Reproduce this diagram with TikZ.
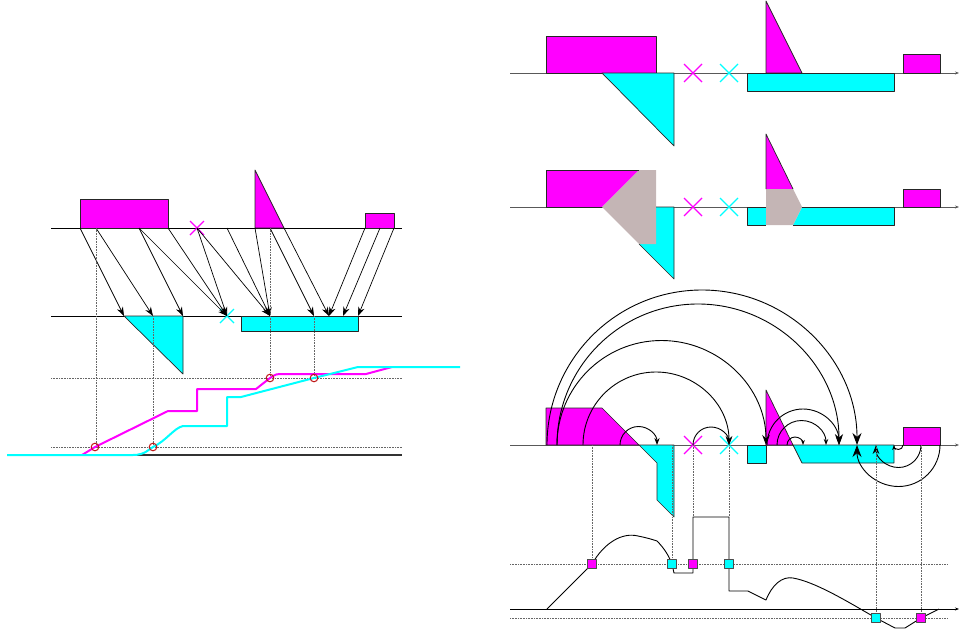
\documentclass[tikz,border=0pt]{standalone}
\usetikzlibrary{arrows.meta}
\definecolor{mag}{RGB}{255,0,255}
\definecolor{cyn}{RGB}{0,255,255}
\definecolor{overlap}{RGB}{196,181,181}
\definecolor{ringred}{RGB}{190,20,20}
\newcommand{\drawcross}[3]{\draw[#1,line width=1.3pt] (#2) +(-#3,-#3) -- +(#3,#3) +(-#3,#3) -- +(#3,-#3);}

\begin{document}
\begin{tikzpicture}[x=1pt,y=-1pt,line join=round,
  axisline/.style={draw=black!65,line width=0.8pt},
  piece/.style={draw=black!85,line width=0.7pt},
  guide/.style={densely dotted,draw=black!60,line width=0.6pt},
  ring/.style={draw=ringred,line width=1pt},
  sqmag/.style={draw=black!70,fill=mag,minimum size=9pt,inner sep=0pt,line width=0.6pt},
  sqcyn/.style={draw=black!70,fill=cyn,minimum size=9pt,inner sep=0pt,line width=0.6pt}]
\useasboundingbox (0,0) rectangle (959,632);

% left: top row mapped onto the middle row
\draw[line width=0.8pt] (51,228) -- (402,228);
\draw[line width=0.8pt] (51,316) -- (402,316);
\filldraw[piece,fill=mag] (80,199) rectangle (168,228);
\filldraw[piece,fill=mag] (255,170) -- (255,228) -- (284,228) -- cycle;
\filldraw[piece,fill=mag] (365,213) rectangle (394,228);
\filldraw[piece,fill=cyn] (124,316) -- (183,316) -- (183,374) -- cycle;
\filldraw[piece,fill=cyn] (241,316) rectangle (358,331);
\drawcross{mag}{197,228}{7}
\drawcross{cyn}{227,316}{7}
\foreach \a/\b in {80/124,96/153,139/183,139/227,168/227,197/227,197/270,
                   227/270,255/270,270/314,284/329,365/329,380/343,394/358}
  \draw[-{Stealth[length=9pt,width=6.5pt]},line width=0.7pt] (\a,228) -- (\b,316);
\draw[guide] (96,228) -- (96,447);
\draw[guide] (153,316) -- (153,447);
\draw[guide] (270,228) -- (270,378);
\draw[guide] (314,316) -- (314,378);
\draw[guide] (51,378) -- (402,378);
\draw[guide] (51,447) -- (402,447);
\draw[draw=black!80,line width=1.3pt] (51,455) -- (402,455);
\draw[mag,line width=2pt] (82,455) -- (95,447) -- (168,411) -- (197,411) -- (197,389) -- (256,389)
  .. controls (263,384) .. (270,378) .. controls (276,374) .. (284,374) -- (366,374) -- (392,367);
\draw[cyn,line width=2pt] (7,455) -- (133,455) .. controls (145,455) and (149,449) .. (153,447)
  .. controls (166,441) and (174,428) .. (183,426) -- (227,426) -- (227,397) -- (241,397)
  -- (314,378) -- (358,367) -- (460,367);
\foreach \p in {(95,447),(153,447),(270,378),(314,378)}
  \draw[ring] \p circle (3.8pt);

% right, top row
\draw[axisline,-{Stealth[length=4pt,width=3pt]}] (510,73) -- (959,73);
\filldraw[piece,fill=mag] (546,36) rectangle (656,73);
\filldraw[piece,fill=cyn] (602,73) -- (674,73) -- (674,146) -- cycle;
\filldraw[piece,fill=mag] (766,1) -- (766,73) -- (802,73) -- cycle;
\filldraw[piece,fill=cyn] (747,73) rectangle (894,91);
\filldraw[piece,fill=mag] (903,54) rectangle (940,73);
\drawcross{mag}{693,73}{9}
\drawcross{cyn}{729,73}{9}

% right, middle row with overlaps
\draw[axisline,-{Stealth[length=4pt,width=3pt]}] (510,207) -- (959,207);
\fill[mag] (546,170) -- (639,170) -- (602,207) -- (546,207) -- cycle;
\fill[cyn] (656,207) -- (674,207) -- (674,279) -- (639,244) -- (656,244) -- cycle;
\fill[overlap] (602,207) -- (639,170) -- (656,170) -- (656,244) -- (639,244) -- cycle;
\draw[piece] (602,207) -- (546,207) -- (546,170) -- (639,170);
\draw[piece] (656,207) -- (674,207) -- (674,279) -- (639,244);
\fill[mag] (766,134) -- (766,189) -- (793,189) -- cycle;
\fill[cyn] (747,207) rectangle (766,225);
\fill[cyn] (802,207) -- (894,207) -- (894,225) -- (793,225) -- cycle;
\fill[overlap] (766,189) -- (793,189) -- (802,207) -- (793,225) -- (766,225) -- cycle;
\draw[piece] (766,189) -- (766,134) -- (793,189);
\draw[piece] (766,207) -- (747,207) -- (747,225) -- (766,225);
\draw[piece] (802,207) -- (894,207) -- (894,225) -- (793,225);
\filldraw[piece,fill=mag] (903,189) rectangle (940,207);
\drawcross{mag}{693,207}{9}
\drawcross{cyn}{729,207}{9}

% right, bottom row with jumps
\draw[axisline,-{Stealth[length=4pt,width=3pt]}] (510,445) -- (959,445);
\filldraw[piece,fill=mag] (546,445) -- (546,408) -- (602,408) -- (639,445) -- cycle;
\filldraw[piece,fill=cyn] (639,445) -- (657,463) -- (657,500) -- (674,517) -- (674,445) -- cycle;
\filldraw[piece,fill=cyn] (747,445) rectangle (766,463);
\filldraw[piece,fill=mag] (766,390) -- (766,445) -- (793,445) -- cycle;
\filldraw[piece,fill=cyn] (793,445) -- (802,463) -- (894,463) -- (894,445) -- cycle;
\filldraw[piece,fill=mag] (903,427) rectangle (940,445);
\drawcross{mag}{693,445}{9}
\drawcross{cyn}{729,445}{9}
\foreach \s/\r/\t in {547/155/12,557/141/11,557/104.5/10,583/73/9,620/18.5/7,693/18/7,
                      767/36/8,777/24.5/6,787/8/5}
  \draw[line width=0.9pt,-{Stealth[length=\t pt]}] (\s,445) arc[start angle=180,end angle=0,radius=\r pt];
\foreach \s/\r/\t in {940/41.5/12,921/22.5/9,903/4.5/5}
  \draw[line width=0.9pt,-{Stealth[length=\t pt]}] (\s,445) arc[start angle=0,end angle=-180,radius=\r pt];

% lower graph
\draw[guide] (592,445) -- (592,564);
\draw[guide] (672,445) -- (672,564);
\draw[guide] (693,445) -- (693,517);
\draw[guide] (729,445) -- (729,517);
\draw[guide] (876,445) -- (876,618);
\draw[guide] (921,445) -- (921,618);
\draw[guide] (510,564) -- (948,564);
\draw[guide] (510,618) -- (948,618);
\draw[draw=black,line width=0.8pt,-{Stealth[length=4pt,width=3pt]}] (510,609) -- (959,609);
\coordinate (q1) at (592,564);
\coordinate (q2) at (672,564);
\coordinate (q3) at (693,564);
\coordinate (q4) at (729,564);
\coordinate (q5) at (876,618);
\coordinate (q6) at (921,618);
\draw[line width=0.9pt] (547,609) -- (q1) .. controls (604,543) and (622,532) .. (638,536)
  .. controls (648,538) and (654,540) .. (657,541) .. controls (664,548) and (669,556) .. (q2)
  -- (674,573) -- (693,573) -- (q3) -- (693,517) -- (729,517) -- (q4) -- (729,591) -- (748,591)
  -- (766,600) .. controls (772,585) and (782,576) .. (793,578)
  .. controls (815,582) and (845,600) .. (q5) -- (895,628) -- (905,628) -- (q6) -- (939,609);
\node[sqmag] (s1) at (q1) {};
\node[sqcyn] (s2) at (q2) {};
\node[sqmag] (s3) at (q3) {};
\node[sqcyn] (s4) at (q4) {};
\node[sqcyn] (s5) at (q5) {};
\node[sqmag] (s6) at (q6) {};
\end{tikzpicture}
\end{document}
